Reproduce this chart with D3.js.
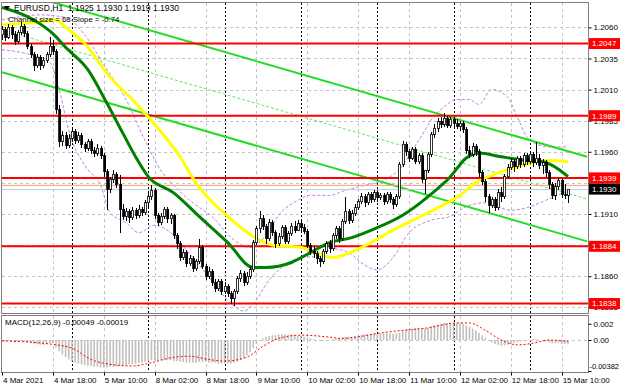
<!DOCTYPE html>
<html><head><meta charset="utf-8">
<script src="https://cdn.jsdelivr.net/npm/d3@7"></script>
<style>
body{margin:0;background:#fff;}
svg{display:block;font-family:"Liberation Sans",Arial,sans-serif;}
.pre{white-space:pre;}
</style>
</head><body>
<svg id="c" width="620" height="388"></svg>
<script>
// ---------- DATA ----------
const opens=[1.2054,1.2058,1.2052,1.2060,1.2054,1.2049,1.2056,1.2061,1.2055,1.2045,
1.2038,1.2029,1.2036,1.2029,1.2033,1.2038,1.2045,1.2041,1.1994,1.1968,
1.1973,1.1965,1.1971,1.1976,1.1969,1.1973,1.1966,1.1963,1.1968,1.1961,
1.1959,1.1963,1.1957,1.1944,1.1930,1.1938,1.1942,1.1934,1.1914,1.1908,
1.1912,1.1907,1.1913,1.1909,1.1914,1.1911,1.1919,1.1924,1.1929,1.1909,
1.1903,1.1908,1.1914,1.1906,1.1909,1.1893,1.1886,1.1875,1.1879,1.1870,
1.1874,1.1866,1.1872,1.1883,1.1868,1.1860,1.1864,1.1855,1.1850,1.1856,
1.1848,1.1852,1.1846,1.1842,1.1848,1.1858,1.1862,1.1855,1.1860,1.1865,
1.1887,1.1898,1.1906,1.1900,1.1890,1.1903,1.1895,1.1886,1.1892,1.1899,
1.1888,1.1894,1.1900,1.1897,1.1902,1.1899,1.1896,1.1885,1.1880,1.1878,
1.1874,1.1872,1.1880,1.1886,1.1882,1.1893,1.1898,1.1890,1.1904,1.1912,
1.1905,1.1910,1.1915,1.1920,1.1924,1.1919,1.1926,1.1922,1.1927,1.1923,
1.1925,1.1920,1.1926,1.1922,1.1918,1.1924,1.1950,1.1966,1.1960,1.1955,
1.1962,1.1952,1.1957,1.1938,1.1945,1.1958,1.1974,1.1979,1.1984,1.1982,
1.1987,1.1981,1.1986,1.1983,1.1980,1.1983,1.1978,1.1961,1.1958,1.1964,
1.1960,1.1943,1.1936,1.1924,1.1917,1.1922,1.1915,1.1927,1.1924,1.1940,
1.1947,1.1952,1.1948,1.1955,1.1950,1.1957,1.1952,1.1958,1.1951,1.1955,
1.1949,1.1951,1.1943,1.1934,1.1925,1.1932,1.1937,1.1926,1.1925];
const highs=[1.2061,1.2060,1.2063,1.2062,1.2057,1.2058,1.2064,1.2063,1.2057,1.2047,
1.2040,1.2039,1.2038,1.2036,1.2040,1.2052,1.2050,1.2043,1.1998,1.1977,
1.1976,1.1974,1.1979,1.1978,1.1976,1.1975,1.1968,1.1970,1.1970,1.1964,
1.1966,1.1965,1.1959,1.1946,1.1940,1.1945,1.1944,1.1941,1.1918,1.1915,
1.1914,1.1916,1.1915,1.1917,1.1916,1.1921,1.1927,1.1933,1.1931,1.1911,
1.1911,1.1916,1.1916,1.1911,1.1910,1.1895,1.1888,1.1882,1.1881,1.1877,
1.1876,1.1874,1.1890,1.1885,1.1870,1.1867,1.1866,1.1858,1.1858,1.1858,
1.1855,1.1854,1.1848,1.1850,1.1860,1.1865,1.1864,1.1863,1.1867,1.1889,
1.1900,1.1912,1.1909,1.1902,1.1906,1.1905,1.1897,1.1895,1.1901,1.1901,
1.1896,1.1903,1.1904,1.1905,1.1904,1.1902,1.1898,1.1887,1.1884,1.1880,
1.1876,1.1882,1.1888,1.1889,1.1895,1.1900,1.1900,1.1906,1.1924,1.1914,
1.1913,1.1918,1.1922,1.1927,1.1926,1.1928,1.1928,1.1929,1.1929,1.1927,
1.1927,1.1928,1.1928,1.1924,1.1926,1.1952,1.1969,1.1968,1.1962,1.1964,
1.1964,1.1959,1.1959,1.1941,1.1960,1.1976,1.1982,1.1987,1.1988,1.1991,
1.1989,1.1988,1.1988,1.1986,1.1985,1.1985,1.1980,1.1965,1.1967,1.1966,
1.1962,1.1945,1.1938,1.1926,1.1924,1.1924,1.1930,1.1932,1.1942,1.1950,
1.1955,1.1954,1.1957,1.1957,1.1959,1.1959,1.1960,1.1960,1.1968,1.1958,
1.1954,1.1953,1.1945,1.1936,1.1935,1.1939,1.1939,1.1934,1.1930];
const lows=[1.2050,1.2049,1.2051,1.2051,1.2046,1.2047,1.2054,1.2052,1.2043,1.2035,
1.2025,1.2027,1.2026,1.2027,1.2031,1.2036,1.2038,1.1990,1.1964,1.1965,
1.1962,1.1963,1.1968,1.1966,1.1967,1.1963,1.1960,1.1961,1.1958,1.1956,
1.1957,1.1954,1.1940,1.1913,1.1927,1.1935,1.1931,1.1895,1.1905,1.1904,
1.1903,1.1905,1.1906,1.1907,1.1908,1.1909,1.1916,1.1921,1.1906,1.1900,
1.1901,1.1906,1.1903,1.1902,1.1890,1.1882,1.1872,1.1873,1.1867,1.1868,
1.1863,1.1864,1.1870,1.1866,1.1857,1.1858,1.1852,1.1847,1.1848,1.1845,
1.1846,1.1843,1.1838,1.1836,1.1846,1.1855,1.1852,1.1853,1.1858,1.1863,
1.1885,1.1895,1.1897,1.1886,1.1888,1.1892,1.1883,1.1884,1.1890,1.1886,
1.1886,1.1892,1.1895,1.1896,1.1896,1.1894,1.1883,1.1877,1.1875,1.1870,
1.1867,1.1870,1.1878,1.1879,1.1880,1.1890,1.1887,1.1888,1.1902,1.1902,
1.1903,1.1908,1.1913,1.1918,1.1916,1.1917,1.1919,1.1920,1.1920,1.1921,
1.1917,1.1918,1.1919,1.1914,1.1916,1.1922,1.1948,1.1957,1.1952,1.1953,
1.1950,1.1950,1.1935,1.1926,1.1943,1.1956,1.1971,1.1976,1.1979,1.1980,
1.1979,1.1979,1.1980,1.1978,1.1977,1.1975,1.1958,1.1955,1.1956,1.1957,
1.1940,1.1933,1.1920,1.1911,1.1915,1.1912,1.1913,1.1920,1.1922,1.1938,
1.1945,1.1944,1.1946,1.1947,1.1948,1.1949,1.1950,1.1948,1.1949,1.1946,
1.1942,1.1940,1.1930,1.1922,1.1921,1.1929,1.1923,1.1922,1.1919];
const closes=[1.2058,1.2052,1.2060,1.2054,1.2049,1.2056,1.2061,1.2055,1.2045,1.2038,
1.2029,1.2036,1.2029,1.2033,1.2038,1.2045,1.2041,1.1994,1.1968,1.1973,
1.1965,1.1971,1.1976,1.1969,1.1973,1.1966,1.1963,1.1968,1.1961,1.1959,
1.1963,1.1957,1.1944,1.1930,1.1938,1.1942,1.1934,1.1914,1.1908,1.1912,
1.1907,1.1913,1.1909,1.1914,1.1911,1.1919,1.1924,1.1929,1.1909,1.1903,
1.1908,1.1914,1.1906,1.1909,1.1893,1.1886,1.1875,1.1879,1.1870,1.1874,
1.1866,1.1872,1.1883,1.1868,1.1860,1.1864,1.1855,1.1850,1.1856,1.1848,
1.1852,1.1846,1.1842,1.1848,1.1858,1.1862,1.1855,1.1860,1.1865,1.1887,
1.1898,1.1906,1.1900,1.1890,1.1903,1.1895,1.1886,1.1892,1.1899,1.1888,
1.1894,1.1900,1.1897,1.1902,1.1899,1.1896,1.1885,1.1880,1.1878,1.1874,
1.1872,1.1880,1.1886,1.1882,1.1893,1.1898,1.1890,1.1904,1.1912,1.1905,
1.1910,1.1915,1.1920,1.1924,1.1919,1.1926,1.1922,1.1927,1.1923,1.1925,
1.1920,1.1926,1.1922,1.1918,1.1924,1.1950,1.1966,1.1960,1.1955,1.1962,
1.1952,1.1957,1.1938,1.1945,1.1958,1.1974,1.1979,1.1984,1.1982,1.1987,
1.1981,1.1986,1.1983,1.1980,1.1983,1.1978,1.1961,1.1958,1.1964,1.1960,
1.1943,1.1936,1.1924,1.1917,1.1922,1.1915,1.1927,1.1924,1.1940,1.1947,
1.1952,1.1948,1.1955,1.1950,1.1957,1.1952,1.1958,1.1951,1.1955,1.1949,
1.1951,1.1943,1.1934,1.1925,1.1932,1.1937,1.1926,1.1925,1.1930];

// moving averages (bar index, price)
const maSlowBars=[0,10,17,20,26,34,41,46,56,61,71,79,85,94,104,113,123,134,144,149,156,162,168,173,178];
const maSlowVals=[1.2062,1.2064,1.2066,1.2060,1.2047,1.2020,1.2002,1.1988,1.1956,1.1935,1.1908,1.1892,1.1885,1.1883,1.1875,1.1883,1.1897,1.1911,1.1925,1.1935,1.1943,1.1948,1.1952,1.1953,1.1952];
const maFastBars=[0,10,16,20,27,33,38,42,46,54,62,71,79,83,91,97,103,110,118,126,134,141,146,150,157,165,170,175,178];
const maFastVals=[1.2076,1.2066,1.2055,1.2044,1.2026,1.1999,1.1975,1.1956,1.1940,1.1927,1.1908,1.1887,1.1867,1.1867,1.1871,1.1879,1.1887,1.1891,1.1899,1.1909,1.1924,1.1940,1.1955,1.1959,1.1956,1.1953,1.1952,1.1946,1.1940];
// envelope bands (dashed violet)
const bandUpBars=[0,12,20,26,32,39,45,50,54,59,66,73,78,83,87,93,97,103,108,114,120,125,131,136,139,143,147,150,154,159,162,166,172,178];
const bandUpVals=[1.2066,1.2070,1.2068,1.2054,1.2030,1.2002,1.1969,1.1945,1.1933,1.1921,1.1908,1.1889,1.1883,1.1893,1.1909,1.1921,1.1925,1.1925,1.1929,1.1933,1.1937,1.1946,1.1969,1.1989,1.1996,1.2002,1.2002,1.1998,1.2010,1.2004,1.1988,1.1969,1.1964,1.1964];
const bandLoBars=[0,9,15,18,21,26,31,34,39,43,48,53,58,62,67,72,76,80,84,89,94,100,104,109,114,118,123,128,135,141,146,152,160,165,171,178];
const bandLoVals=[1.2042,1.2038,1.2032,1.2010,1.1977,1.1949,1.1933,1.1911,1.1903,1.1895,1.1901,1.1895,1.1881,1.1869,1.1853,1.1838,1.1832,1.1841,1.1857,1.1869,1.1875,1.1876,1.1882,1.1879,1.1869,1.1865,1.1875,1.1895,1.1905,1.1908,1.1916,1.1919,1.1913,1.1915,1.1921,1.1929];
// regression channel (bars 0 and 184)
const channelBars=[0,184];
const channelUpper=[1.2092,1.1956];
const channelMiddle=[1.2058,1.1922];
const channelLower=[1.2024,1.1888];
// horizontal levels
const levels=[1.2047,1.1989,1.1939,1.1884,1.1838];
const lastPrice=1.1930;
const askLine=1.1933;
const priceTicks=[1.2060,1.2035,1.2010,1.1985,1.1960,1.1935,1.1910,1.1885,1.1860,1.1835];
const hiddenTicks=[1.1935,1.1885];
// MACD
const macdHist=[-0.0002,-0.0002,-0.0001,-0.0002,-0.0003,-0.0002,-0.0001,-0.0002,-0.0003,-0.0004,-0.0005,-0.0005,-0.0006,-0.0006,-0.0005,-0.0004,-0.0004,
-0.0009,-0.0014,-0.0018,-0.0021,-0.0024,-0.0026,
-0.0028,-0.0029,-0.0030,-0.0031,-0.0032,-0.0032,-0.0033,-0.0033,-0.0034,-0.0034,-0.0034,-0.0033,-0.0033,-0.0033,-0.0032,-0.0032,-0.0031,-0.0030,
-0.0030,-0.0029,-0.0028,-0.0028,-0.0027,-0.0026,-0.0025,-0.0025,-0.0025,-0.0025,-0.0025,-0.0025,-0.0025,-0.0026,-0.0026,-0.0027,
-0.0027,-0.0028,-0.0028,-0.0028,-0.0028,-0.0027,-0.0027,-0.0027,-0.0028,-0.0028,-0.0028,-0.0029,-0.0029,-0.0029,-0.0029,-0.0029,-0.0028,-0.0027,-0.0025,
-0.0022,-0.0019,-0.0015,-0.0010,-0.0005,-0.0001,
0.0002,0.0004,0.0005,0.0006,0.0006,0.0007,0.0007,0.0007,0.0006,0.0006,0.0006,0.0005,0.0005,0.0004,
0.0003,0.0002,0.0001,0.0000,-0.0001,-0.0001,0.0000,0.0000,0.0001,0.0002,0.0002,0.0003,0.0004,0.0004,0.0004,
0.0005,0.0005,0.0006,0.0007,0.0007,0.0007,0.0008,0.0008,0.0008,0.0008,0.0008,0.0008,0.0008,0.0008,0.0009,
0.0011,0.0013,0.0014,0.0014,0.0015,0.0015,0.0014,0.0014,0.0015,0.0017,0.0018,0.0019,0.0020,0.0021,0.0021,0.0021,0.0021,0.0021,0.0020,0.0020,0.0018,0.0016,
0.0014,0.0012,0.0009,0.0006,0.0003,0.0000,-0.0003,
-0.0005,-0.0006,-0.0007,-0.0007,-0.0006,-0.0005,-0.0004,-0.0003,
-0.0002,-0.0001,0.0000,0.0000,0.0001,0.0001,0.0000,-0.0001,
-0.0002,-0.0003,-0.0004,-0.0004,-0.0004,-0.0005,-0.0005,-0.00049];
const signalBars=[0,17,22,28,34,41,47,53,59,65,70,77,82,87,94,102,107,112,118,124,134,143,147,152,157,162,167,172,178];
const signalVals=[-0.0001,-0.0006,-0.0010,-0.0024,-0.0030,-0.0032,-0.0028,-0.0022,-0.0020,-0.0024,-0.0026,-0.0021,-0.0008,0.0002,0.0006,0.0004,0.0002,0.0004,0.0008,0.0011,0.0015,0.0021,0.0021,0.0012,0.0000,-0.0006,-0.0004,0.0000,-0.00019];
const macdTicks=[0.002,0,-0.00382];
const macdTickLabels=["0.002","0.00","-0.00382"];
// time axis
const timeLabelBars=[0,16,32,48,64,80,96,112,128,144,160,176];
const timeLabels=["4 Mar 2021","4 Mar 18:00","5 Mar 10:00","8 Mar 02:00","8 Mar 18:00","9 Mar 10:00","10 Mar 02:00","10 Mar 18:00","11 Mar 10:00","12 Mar 02:00","12 Mar 18:00","15 Mar 10:00"];
const daySepBars=[22,46,70,94,118,142,166];
const headerText="EURUSD,H1  1.1925 1.1930 1.1919 1.1930";
const channelText="Channel size = 68 Slope = -0.74";
const macdText="MACD(12,26,9) -0.00049 -0.00019";

// ---------- LAYOUT ----------
const L=2,R=588,T=3,B=313,MT=316,MB=372;
const svg=d3.select("#c");
const x=d3.scaleLinear().domain([0,184.28]).range([L,R]);
const y=d3.scaleLinear().domain([1.18304,1.20796]).range([B,T]);
const ym=d3.scaleLinear().domain([-0.00382,0]).range([MB-1,340]);

const defs=svg.append("defs");
defs.append("clipPath").attr("id","cm").append("rect").attr("x",L).attr("y",T).attr("width",R-L).attr("height",B-T);
defs.append("clipPath").attr("id","cd").append("rect").attr("x",L).attr("y",MT).attr("width",R-L).attr("height",MB-MT);

const gMain=svg.append("g").attr("clip-path","url(#cm)");
const gMacd=svg.append("g").attr("clip-path","url(#cd)");

// grid
const gridColor="#c4c4c4";
[[gMain,T,B],[gMacd,MT,MB]].forEach(([g,t,b])=>{
  g.selectAll(null).data(timeLabelBars.slice(1)).enter().append("line")
   .attr("x1",d=>Math.round(x(d))+0.5).attr("x2",d=>Math.round(x(d))+0.5).attr("y1",t).attr("y2",b)
   .attr("stroke",gridColor).attr("stroke-dasharray","3,3");
  g.selectAll(null).data(daySepBars).enter().append("line")
   .attr("x1",d=>Math.round(x(d))+0.5).attr("x2",d=>Math.round(x(d))+0.5).attr("y1",t).attr("y2",b)
   .attr("stroke","#000").attr("stroke-dasharray","2,2");
});
gMain.selectAll(null).data(priceTicks).enter().append("line")
  .attr("x1",L).attr("x2",R).attr("y1",d=>Math.round(y(d))+0.5).attr("y2",d=>Math.round(y(d))+0.5)
  .attr("stroke",gridColor).attr("stroke-dasharray","3,3");
gMacd.append("line").attr("x1",L).attr("x2",R).attr("y1",Math.round(ym(0))+0.5).attr("y2",Math.round(ym(0))+0.5)
  .attr("stroke",gridColor).attr("stroke-dasharray","3,3");

// bands
const lineGen=d3.line().x(d=>x(d[0])).y(d=>y(d[1])).curve(d3.curveMonotoneX);
const zip=(a,b)=>a.map((v,i)=>[v,b[i]]);
[[bandUpBars,bandUpVals],[bandLoBars,bandLoVals]].forEach(([bb,vv])=>{
  gMain.append("path").attr("d",lineGen(zip(bb,vv))).attr("fill","none")
   .attr("stroke","#c77ee0").attr("stroke-width",1).attr("stroke-dasharray","3,2");
});
// channel
gMain.append("path").attr("d",d3.line().x(d=>x(d[0])).y(d=>y(d[1]))(zip(channelBars,channelMiddle)))
  .attr("stroke","#5ee85e").attr("stroke-width",1).attr("stroke-dasharray","3,2").attr("fill","none");
[channelUpper,channelLower].forEach(c=>{
  gMain.append("path").attr("d",d3.line().x(d=>x(d[0])).y(d=>y(d[1]))(zip(channelBars,c)))
   .attr("stroke","#22dd22").attr("stroke-width",2).attr("fill","none");
});
// levels
gMain.selectAll(null).data(levels).enter().append("line")
  .attr("x1",L).attr("x2",R).attr("y1",d=>y(d)).attr("y2",d=>y(d))
  .attr("stroke","#ff0000").attr("stroke-width",2);
gMain.append("line").attr("x1",L).attr("x2",R).attr("y1",y(askLine)).attr("y2",y(askLine)).attr("stroke","#f7a06a").attr("stroke-width",1);
gMain.append("line").attr("x1",L).attr("x2",R).attr("y1",y(lastPrice)+0.5).attr("y2",y(lastPrice)+0.5).attr("stroke","#b8c8e0").attr("stroke-width",1);
// moving averages
gMain.append("path").attr("d",lineGen(zip(maSlowBars,maSlowVals))).attr("fill","none").attr("stroke","#ffff00").attr("stroke-width",3);
gMain.append("path").attr("d",lineGen(zip(maFastBars,maFastVals))).attr("fill","none").attr("stroke","#007f00").attr("stroke-width",3);

// candles
const idx=d3.range(closes.length);
const cg=gMain.append("g").attr("shape-rendering","crispEdges");
cg.selectAll("line.w").data(idx).enter().append("line")
  .attr("x1",i=>Math.round(x(i))+0.5).attr("x2",i=>Math.round(x(i))+0.5)
  .attr("y1",i=>y(highs[i])).attr("y2",i=>y(lows[i])).attr("stroke","#000");
cg.selectAll("rect.b").data(idx).enter().append("rect")
  .attr("x",i=>Math.round(x(i))-0.5).attr("width",2)
  .attr("y",i=>y(Math.max(opens[i],closes[i])))
  .attr("height",i=>Math.max(1,Math.abs(y(opens[i])-y(closes[i]))))
  .attr("fill",i=>closes[i]>=opens[i]?"#fff":"#000").attr("stroke","#000").attr("stroke-width",0.8);

// MACD
const bw=1.6;
gMacd.selectAll(null).data(idx).enter().append("rect")
  .attr("x",i=>x(i)-bw/2).attr("width",bw)
  .attr("y",i=>Math.min(ym(macdHist[i]),ym(0))).attr("height",i=>Math.abs(ym(macdHist[i])-ym(0)))
  .attr("fill","#c0c0c0");
gMacd.append("path").attr("d",d3.line().x(d=>x(d[0])).y(d=>ym(d[1])).curve(d3.curveMonotoneX)(zip(signalBars,signalVals)))
  .attr("fill","none").attr("stroke","#ff0000").attr("stroke-width",1).attr("stroke-dasharray","2,2");

// frames
const fr=svg.append("g").attr("fill","none").attr("stroke","#808080").attr("shape-rendering","crispEdges");
fr.append("rect").attr("x",L-0.5).attr("y",T-0.5).attr("width",R-L+1).attr("height",B-T+1);
fr.append("rect").attr("x",L-0.5).attr("y",MT-0.5).attr("width",R-L+1).attr("height",MB-MT+1);

// price axis
const fs=8;
const ax=svg.append("g").attr("transform",`translate(${R+0.5},0)`)
  .call(d3.axisRight(y).tickValues(priceTicks).tickFormat(d3.format(".4f")).tickSize(3).tickPadding(2));
ax.select(".domain").remove();
ax.selectAll("text").attr("font-size",fs).attr("font-family","Liberation Sans,Arial,sans-serif").attr("fill","#000");
ax.selectAll("line").attr("stroke","#000");
ax.selectAll(".tick").filter(d=>hiddenTicks.includes(d)).select("text").remove();
// macd axis
const axm=svg.append("g").attr("transform",`translate(${R+0.5},0)`)
  .call(d3.axisRight(ym).tickValues(macdTicks).tickFormat((d,i)=>macdTickLabels[i]).tickSize(3).tickPadding(2));
axm.select(".domain").remove();
axm.selectAll("text").attr("font-size",fs).attr("font-family","Liberation Sans,Arial,sans-serif").attr("fill","#000");
axm.selectAll("line").attr("stroke","#000");
axm.selectAll(".tick").filter(d=>d<-0.003).select("text")
  .attr("text-anchor","end").attr("x",620-R-1.5).attr("dy","-0.3em").attr("font-size",7.5);

// level labels
function tag(v,bg,fg){
  const g=svg.append("g").attr("transform",`translate(${R+1},${y(v)})`);
  g.append("rect").attr("x",0).attr("y",-5.5).attr("width",620-R-1).attr("height",11).attr("fill",bg);
  g.append("text").attr("x",3).attr("y",0).attr("dy","0.35em").attr("font-size",fs).attr("fill",fg).text(d3.format(".4f")(v));
}
tag(askLine,"#f7a06a","#fff");
levels.forEach(v=>tag(v,"#ff0000","#fff"));
tag(lastPrice,"#000","#fff");

// time axis
const tx=svg.append("g").attr("transform",`translate(0,${MB+0.5})`);
tx.selectAll(null).data(timeLabelBars).enter().append("line")
  .attr("x1",d=>Math.round(x(d))+0.5).attr("x2",d=>Math.round(x(d))+0.5).attr("y1",0).attr("y2",3).attr("stroke","#000");
tx.selectAll(null).data(timeLabelBars).enter().append("text")
  .attr("x",d=>x(d)+1).attr("y",10).attr("font-size",fs).attr("fill","#000").text((d,i)=>timeLabels[i]);

// header texts
svg.append("path").attr("d","M4,6 L10,6 L7,10 Z").attr("fill","#000");
svg.append("text").attr("class","pre").attr("x",14).attr("y",11).attr("font-size",8.5).attr("fill","#000").text(headerText);
svg.append("text").attr("x",8).attr("y",22).attr("font-size",7.8).attr("fill","#000").text(channelText);
svg.append("text").attr("x",5).attr("y",MT+9).attr("font-size",fs).attr("fill","#000").text(macdText);
</script>
</body></html>
